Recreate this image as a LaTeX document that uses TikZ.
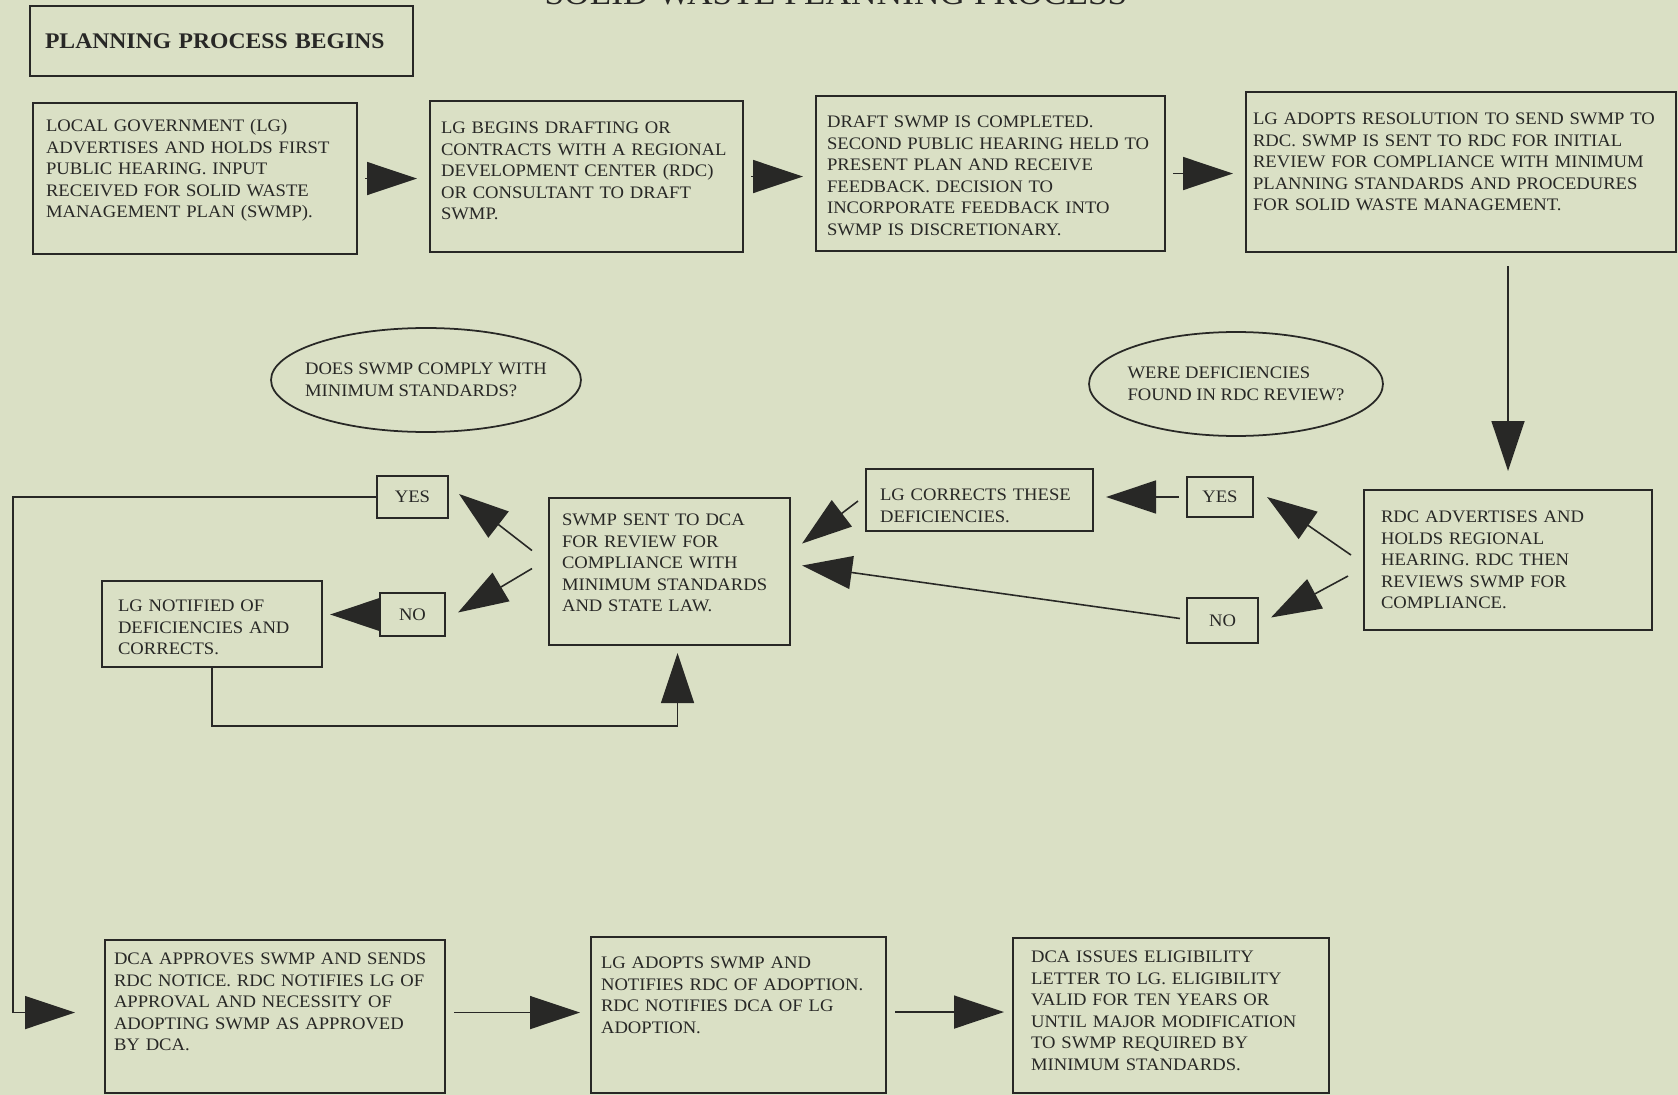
\documentclass[tikz,border=0pt]{standalone}
\usepackage{fontspec}
\setmainfont{Liberation Serif}[FakeStretch=1.06]
\usepackage{xcolor}
\usetikzlibrary{shapes.geometric, arrows.meta, calc}
\definecolor{swpaper}{RGB}{218, 224, 197}
\definecolor{swink}{RGB}{40, 40, 38}
\tikzset{
  stepbox/.style n args={4}{rectangle, draw=swink, line width=1.2pt, anchor=north west,
                 align=left, inner ysep=0pt, inner xsep=#1, text width=#2,
                 text height=#3, text depth=#4, font=\fontsize{10}{12.3}\selectfont},
  startbox/.style={rectangle, draw=swink, line width=1.2pt, minimum width=7.66cm,
                 minimum height=1.4cm, inner xsep=0.3cm, text width=7.06cm, align=left,
                 font=\fontsize{12.7}{15}\selectfont\bfseries},
  answer/.style 2 args={rectangle, draw=swink, line width=1.2pt, inner sep=0pt,
                 minimum width=#1, minimum height=#2, font=\fontsize{10}{12}\selectfont},
  query/.style={ellipse, draw=swink, line width=1pt, inner xsep=-0.8cm, inner ysep=0pt,
                 minimum width=#1, minimum height=2.08cm, align=left,
                 font=\fontsize{10}{12.3}\selectfont},
  arrow/.style={-{Triangle[length=1cm, width=0.66cm]}, line width=0.9pt, draw=swink},
}
\frenchspacing

\begin{document}
\begin{tikzpicture}[x=0.02cm, y=-0.02cm, every node/.style={text=swink}]
  \useasboundingbox (0,0) rectangle (1678,1095);
  \clip (0,0) rectangle (1678,1095);
  \fill[swpaper] (0,0) rectangle (1678,1095);

  \node[anchor=base, font=\fontsize{19}{21}\selectfont] (title) at (836,5)
       {SOLID WASTE PLANNING PROCESS};
  \node[startbox] (begin) at (221.5,41) {PLANNING PROCESS BEGINS};

  % top row
  \node[stepbox={0.26cm}{5.96cm}{0.57cm}{2.45cm}] (hearing) at (32,102)
       {LOCAL GOVERNMENT (LG)\\ ADVERTISES AND HOLDS FIRST\\ PUBLIC HEARING. INPUT\\
        RECEIVED FOR SOLID WASTE\\ MANAGEMENT PLAN (SWMP).};
  \node[stepbox={0.22cm}{5.82cm}{0.65cm}{2.37cm}] (drafting) at (429,100)
       {LG BEGINS DRAFTING OR\\ CONTRACTS WITH A REGIONAL\\ DEVELOPMENT CENTER (RDC)\\
        OR CONSULTANT TO DRAFT\\ SWMP.};
  \node[stepbox={0.22cm}{6.54cm}{0.63cm}{2.47cm}] (draftdone) at (815,95)
       {DRAFT SWMP IS COMPLETED.\\ SECOND PUBLIC HEARING HELD TO\\ PRESENT PLAN AND RECEIVE\\
        FEEDBACK. DECISION TO\\ INCORPORATE FEEDBACK INTO\\ SWMP IS DISCRETIONARY.};
  \node[stepbox={0.14cm}{8.32cm}{0.65cm}{2.55cm}] (resolution) at (1245,91)
       {LG ADOPTS RESOLUTION TO SEND SWMP TO\\ RDC. SWMP IS SENT TO RDC FOR INITIAL\\
        REVIEW FOR COMPLIANCE WITH MINIMUM\\ PLANNING STANDARDS AND PROCEDURES\\
        FOR SOLID WASTE MANAGEMENT.};

  % middle row
  \node[query=6.2cm] (dcaquery) at (426,380) {DOES SWMP COMPLY WITH\\ MINIMUM STANDARDS?};
  \node[query=5.88cm] (rdcquery) at (1236,384) {WERE DEFICIENCIES\\ FOUND IN RDC REVIEW?};
  \node[stepbox={0.34cm}{5.08cm}{0.65cm}{2.15cm}] (rdcreview) at (1363,489)
       {RDC ADVERTISES AND\\ HOLDS REGIONAL\\ HEARING. RDC THEN\\ REVIEWS SWMP FOR\\ COMPLIANCE.};
  \node[answer={1.32cm}{0.8cm}] (rdcyes) at (1220,497) {YES};
  \node[answer={1.42cm}{0.9cm}] (rdcno) at (1222.5,620.5) {NO};
  \node[stepbox={0.28cm}{3.98cm}{0.63cm}{0.61cm}] (corrects) at (865,468)
       {LG CORRECTS THESE\\ DEFICIENCIES.};
  \node[stepbox={0.26cm}{4.30cm}{0.55cm}{2.39cm}] (dcareview) at (548,497)
       {SWMP SENT TO DCA\\ FOR REVIEW FOR\\ COMPLIANCE WITH\\ MINIMUM STANDARDS\\ AND STATE LAW.};
  \node[answer={1.42cm}{0.84cm}] (dcayes) at (412.5,497) {YES};
  \node[answer={1.3cm}{0.86cm}] (dcano) at (412.5,614.5) {NO};
  \node[stepbox={0.32cm}{3.76cm}{0.61cm}{1.11cm}] (notified) at (101,580)
       {LG NOTIFIED OF\\ DEFICIENCIES AND\\ CORRECTS.};

  % bottom row
  \node[stepbox={0.18cm}{6.44cm}{0.49cm}{2.57cm}] (approves) at (104,939)
       {DCA APPROVES SWMP AND SENDS\\ RDC NOTICE. RDC NOTIFIES LG OF\\ APPROVAL AND NECESSITY OF\\
        ADOPTING SWMP AS APPROVED\\ BY DCA.};
  \node[stepbox={0.2cm}{5.5cm}{0.63cm}{2.49cm}] (adopts) at (590,936)
       {LG ADOPTS SWMP AND\\ NOTIFIES RDC OF ADOPTION.\\ RDC NOTIFIES DCA OF LG\\ ADOPTION.};
  \node[stepbox={0.36cm}{5.6cm}{0.49cm}{2.61cm}] (eligible) at (1012,937)
       {DCA ISSUES ELIGIBILITY\\ LETTER TO LG. ELIGIBILITY\\ VALID FOR TEN YEARS OR\\
        UNTIL MAJOR MODIFICATION\\ TO SWMP REQUIRED BY\\ MINIMUM STANDARDS.};

  % connectors
  \draw[arrow, shorten <=0.14cm, shorten >=0.24cm] (hearing.east) -- (hearing.east -| drafting.west);
  \draw[arrow, shorten <=0.14cm, shorten >=0.24cm] (drafting.east) -- (drafting.east -| draftdone.west);
  \draw[arrow, shorten <=0.14cm, shorten >=0.24cm] (draftdone.east) -- (draftdone.east -| resolution.west);
  \draw[arrow, shorten <=0.26cm, shorten >=0.36cm] (resolution.south -| rdcreview.north) -- (rdcreview.north);
  \draw[arrow] ($(rdcreview.west)+(-12,-5)$) -- ($(rdcyes.east)+(13,0)$);
  \draw[arrow] ($(rdcreview.west)+(-15,16)$) -- ($(rdcno.east)+(12,-3)$);
  \draw[arrow] ($(rdcyes.west)+(-7,0)$) -- ($(corrects.east |- rdcyes.west)+(12,0)$);
  \draw[arrow] ($(corrects.west)+(-7,1)$) -- ($(dcareview.east)+(11,-28)$);
  \draw[arrow] ($(rdcno.west)+(-6,-2)$) -- ($(dcareview.east)+(11,-6)$);
  \draw[arrow] ($(dcareview.west)+(-16,-21)$) -- ($(dcayes.east)+(10,-3)$);
  \draw[arrow] ($(dcareview.west)+(-16,-3)$) -- ($(dcano.east)+(12,-2)$);
  \draw[arrow] (dcano.west) -- ($(notified.east |- dcano.west)+(7,0)$);
  \draw[arrow] (notified.south) -- ++(0,58) -| ($(dcareview.south)+(8,7)$);
  \draw[arrow] (dcayes.west) -| ($(approves.west)+(-91,-4)$) -- ($(approves.west)+(-29,-4)$);
  \draw[arrow, shorten <=0.16cm, shorten >=0.2cm] ($(approves.east)+(0,-4)$) -- ($(approves.east -| adopts.west)+(0,-4)$);
  \draw[arrow, shorten <=0.16cm, shorten >=0.16cm] ($(adopts.east)+(0,-3)$) -- ($(adopts.east -| eligible.west)+(0,-3)$);
\end{tikzpicture}
\end{document}
